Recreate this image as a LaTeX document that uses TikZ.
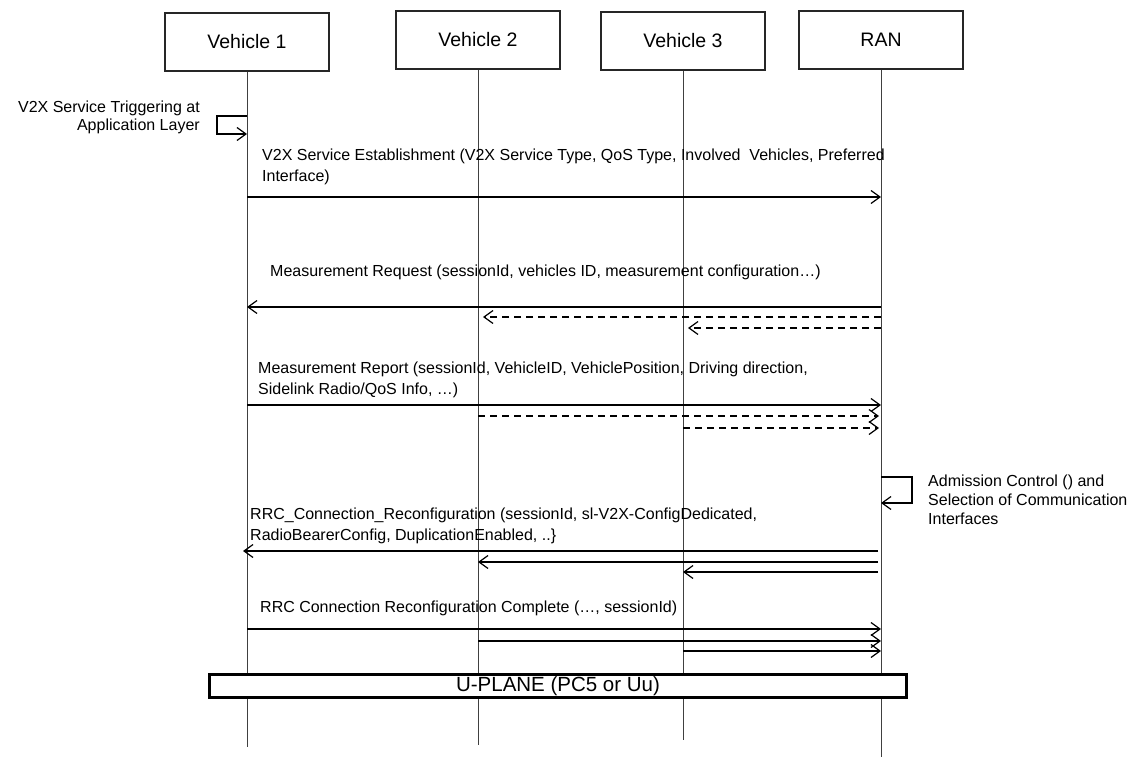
\documentclass[tikz,border=0pt]{standalone}
\usepackage{fontspec}
\setmainfont{Liberation Sans}
\usetikzlibrary{arrows.meta, positioning, calc}

\begin{document}
\begin{tikzpicture}[
    x=1pt, y=-1pt,
    entity/.style={
        rectangle, draw=black!85, line width=1.1pt, fill=white,
        minimum width=164pt, minimum height=58pt, inner sep=0pt,
        font=\fontsize{19.5}{22}\selectfont
    },
    lifeline/.style={draw=black!75, line width=1pt},
    msg/.style={->, line width=1.2pt},
    dmsg/.style={msg, dash pattern=on 7pt off 5pt},
    lbl/.style={anchor=base west, align=left, inner sep=0pt,
        font=\fontsize{16}{21}\selectfont},
    >={Straight Barb[length=9pt, width=13pt, line width=1.2pt]}
]
\useasboundingbox (0,0) rectangle (1139,759);

% Participants
\node[entity] (veh1) at (247,42) {Vehicle 1};
\node[entity] (veh2) at (478,40) {Vehicle 2};
\node[entity] (veh3) at (683,41) {Vehicle 3};
\node[entity] (ran)  at (881,40) {RAN};

% Lifelines
\coordinate (veh1end) at (247,747);
\coordinate (veh2end) at (478,745);
\coordinate (veh3end) at (683,740);
\coordinate (ranend)  at (881,757);
\draw[lifeline] (veh1) -- (veh1end);
\draw[lifeline] (veh2) -- (veh2end);
\draw[lifeline] (veh3) -- (veh3end);
\draw[lifeline] (ran) -- (ranend);

% Message rows
\coordinate (trig) at (0,116);
\coordinate (est)  at (0,197);
\coordinate (req1) at (0,307);
\coordinate (req2) at (0,317);
\coordinate (req3) at (0,328);
\coordinate (rep1) at (0,405);
\coordinate (rep2) at (0,416);
\coordinate (rep3) at (0,428);
\coordinate (adm)  at (0,477);
\coordinate (rrc1) at (0,551);
\coordinate (rrc2) at (0,562);
\coordinate (rrc3) at (0,572);
\coordinate (cmp1) at (0,629);
\coordinate (cmp2) at (0,641);
\coordinate (cmp3) at (0,651);

% Service triggering (self message on Vehicle 1)
\draw[msg] (veh1 |- trig) -- ++(-30,0) -- ++(0,18) -- ++(30,0);
\node[lbl, anchor=base east, align=right, font=\fontsize{16}{18}\selectfont] (triglbl) at (200,131)
    {V2X Service Triggering at\\Application Layer};

% Service establishment
\node[lbl] (estlbl) at (262,182)
    {V2X Service Establishment (V2X Service Type, QoS Type, Involved\ \ Vehicles, Preferred\\Interface)};
\draw[msg] (veh1 |- est) -- (ran |- est);

% Measurement request
\node[lbl] (reqlbl) at (270,276)
    {Measurement Request (sessionId, vehicles ID, measurement configuration…)};
\draw[msg] (ran |- req1) -- (veh1 |- req1);
\draw[dmsg, shorten >=5pt] (ran |- req2) -- (veh2 |- req2);
\draw[dmsg, shorten >=5pt] (ran |- req3) -- (veh3 |- req3);

% Measurement report
\node[lbl] (replbl) at (258,394)
    {Measurement Report (sessionId, VehicleID, VehiclePosition, Driving direction,\\Sidelink Radio/QoS Info, …)};
\draw[msg] (veh1 |- rep1) -- (ran |- rep1);
\draw[dmsg, shorten >=2pt] (veh2 |- rep2) -- (ran |- rep2);
\draw[dmsg, shorten >=2pt] (veh3 |- rep3) -- (ran |- rep3);

% Admission control (self message on RAN)
\draw[msg] (ran |- adm) -- ++(31,0) -- ++(0,26) -- ++(-31,0);
\node[lbl, font=\fontsize{16}{19}\selectfont] (admlbl) at (928,524)
    {Admission Control () and\\Selection of Communication\\Interfaces};

% RRC connection reconfiguration
\node[lbl] (rrclbl) at (250,540)
    {RRC\_Connection\_Reconfiguration (sessionId, sl-V2X-ConfigDedicated,\\RadioBearerConfig, DuplicationEnabled, ..\}};
\draw[msg, shorten <=3pt, shorten >=-4pt] (ran |- rrc1) -- (veh1 |- rrc1);
\draw[msg, shorten <=3pt] (ran |- rrc2) -- (veh2 |- rrc2);
\draw[msg, shorten <=3pt] (ran |- rrc3) -- (veh3 |- rrc3);

% RRC connection reconfiguration complete
\node[lbl] (cmplbl) at (260,612)
    {RRC Connection Reconfiguration Complete (…, sessionId)};
\draw[msg] (veh1 |- cmp1) -- (ran |- cmp1);
\draw[msg] (veh2 |- cmp2) -- (ran |- cmp2);
\draw[msg] (veh3 |- cmp3) -- (ran |- cmp3);

% User plane
\node[draw, line width=2.4pt, fill=white, minimum width=697pt, minimum height=23pt,
      inner sep=0pt, font=\fontsize{20.5}{22}\selectfont] (uplane) at (558,686)
    {U-PLANE (PC5 or Uu)};

\end{tikzpicture}
\end{document}
